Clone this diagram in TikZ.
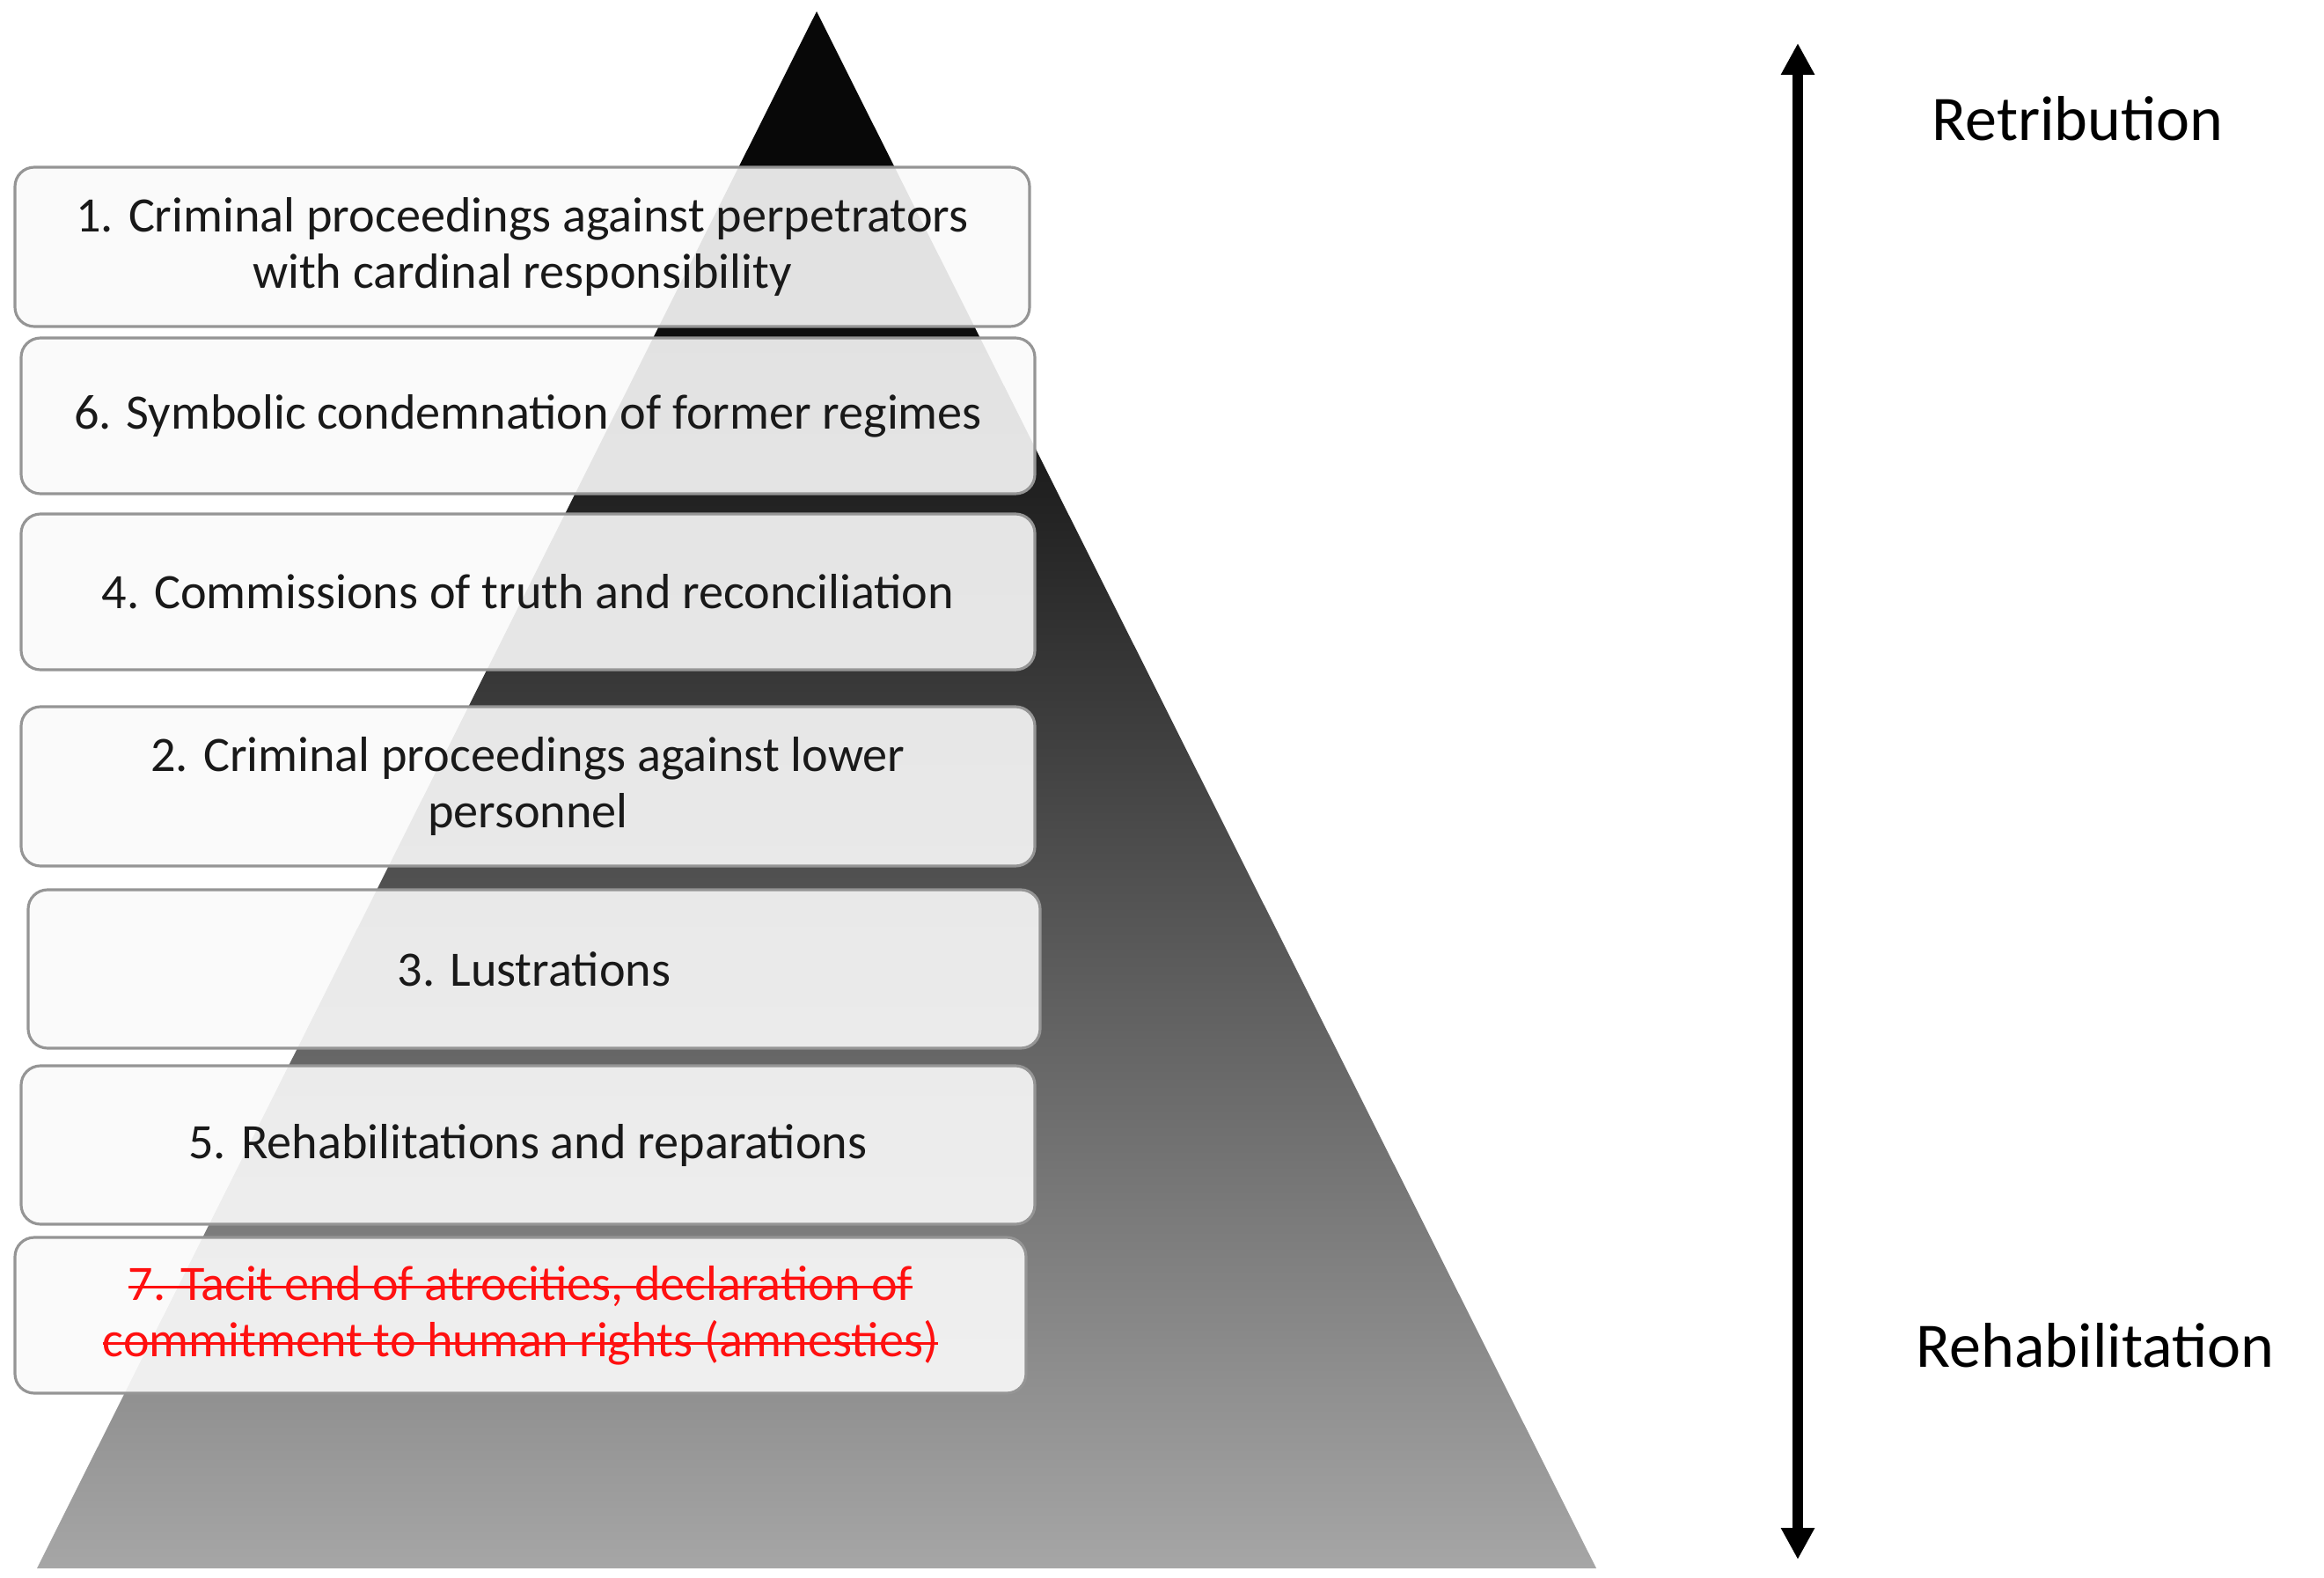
\documentclass[tikz,border=0pt]{standalone}
\usepackage{fontspec}
\setmainfont{Carlito}
\newcommand\mystrike[1]{\setbox0=\hbox{#1}\rlap{\raisebox{0.5ex}{\rule{\wd0}{0.9pt}}}\box0}
\usetikzlibrary{arrows.meta}
\definecolor{pbot}{HTML}{A6A6A6}
\definecolor{ptop}{HTML}{080808}
\definecolor{boxline}{HTML}{959595}
\definecolor{boxfill}{HTML}{FAFAFA}
\definecolor{strikered}{HTML}{FF1010}
\pgfdeclareverticalshading{pyr}{100bp}{color(0bp)=(pbot); color(25bp)=(pbot); color(66bp)=(ptop); color(100bp)=(ptop)}
\begin{document}
\begin{tikzpicture}[x=1cm,y=1cm,
  pbox/.style={draw=boxline, line width=0.9pt, rounded corners=0.22cm,
    fill=boxfill, fill opacity=0.9, text opacity=1, inner sep=0pt,
    align=center, text=black!90, font=\fontsize{16}{18.2}\selectfont},
  side/.style={font=\fontsize{20.5}{24}\selectfont, text=black, anchor=base}]
\useasboundingbox (0,0) rectangle (26.41,-17.93);
% pyramid
\shade[shading=pyr] (9.28,-0.13) -- (18.14,-17.82) -- (0.42,-17.82) -- cycle;
% boxes
\node[pbox, minimum width=11.53cm, minimum height=1.81cm] (b1) at (5.935,-2.805)
  {1. Criminal proceedings against perpetrators\\with cardinal responsibility};
\node[pbox, minimum width=11.52cm, minimum height=1.77cm] (b6) at (6.00,-4.725)
  {6. Symbolic condemnation of former regimes};
\node[pbox, minimum width=11.52cm, minimum height=1.77cm] (b4) at (6.00,-6.725)
  {4. Commissions of truth and reconciliation};
\node[pbox, minimum width=11.52cm, minimum height=1.81cm] (b2) at (6.00,-8.935)
  {2. Criminal proceedings against lower\\personnel};
\node[pbox, minimum width=11.50cm, minimum height=1.80cm] (b3) at (6.07,-11.01)
  {3. Lustrations};
\node[pbox, minimum width=11.52cm, minimum height=1.80cm] (b5) at (6.00,-13.01)
  {5. Rehabilitations and reparations};
\node[pbox, minimum width=11.49cm, minimum height=1.77cm, text=strikered] (b7) at (5.915,-14.945)
  {\mystrike{7. Tacit end of atrocities, declaration of}\\\mystrike{commitment to human rights (amnesties)}};
% axis
\coordinate (atop) at (20.43,-0.49);
\coordinate (abot) at (20.43,-17.72);
\draw[line width=0.12cm, {Triangle[length=0.36cm,width=0.36cm]}-{Triangle[length=0.36cm,width=0.36cm]}] (atop) -- (abot);
\node[side] (ret) at (23.61,-1.60) {Retribution};
\node[side] (reh) at (23.81,-15.53) {Rehabilitation};
\end{tikzpicture}
\end{document}
